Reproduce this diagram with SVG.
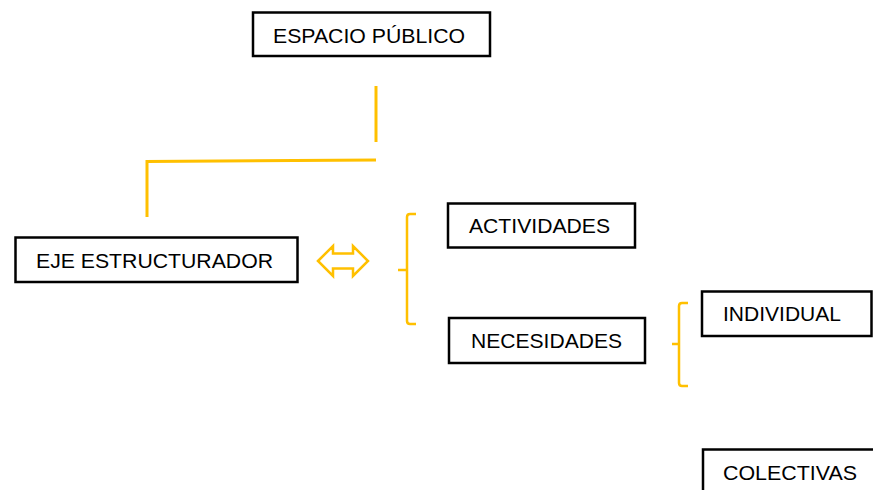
<svg xmlns="http://www.w3.org/2000/svg" width="873" height="490" viewBox="0 0 873 490">
<style>
.box{fill:#fff;stroke:#000;stroke-width:2.5}
.t{font-family:"Liberation Sans",Arial,sans-serif;font-size:21px;fill:#000}
.y{fill:none;stroke:#FFC000;stroke-width:3}
.br{fill:none;stroke:#FFC000;stroke-width:2.5;stroke-linejoin:round}
</style>
<rect width="873" height="490" fill="#fff"/>
<g id="connectors">
<line class="y" x1="376" y1="86" x2="376" y2="142"/>
<polyline class="y" points="376,160 147,161.5 147,217"/>
<path id="double-arrow" d="M318,261 L333,246 L333,253.5 L353,253.5 L353,246 L368,261 L353,276 L353,268.5 L333,268.5 L333,276 Z" fill="#fff" stroke="#FFC000" stroke-width="2.5" stroke-linejoin="miter"/>
<path class="br" d="M416,214 L410,214 Q407,214 407,217 L407,321 Q407,324 410,324 L416,324 M398,270 L407,270"/>
<path class="br" d="M688,303 L682,303 Q679,303 679,306 L679,383 Q679,386 682,386 L688,386 M672,344 L679,344"/>
</g>
<g id="espacio-publico">
<rect class="box" x="253" y="12.5" width="237" height="43.5"/>
<text class="t" x="273" y="43" textLength="192" lengthAdjust="spacingAndGlyphs">ESPACIO PÚBLICO</text>
</g>
<g id="eje-estructurador">
<rect class="box" x="15.5" y="237.5" width="282" height="44.5"/>
<text class="t" x="36" y="268" textLength="237" lengthAdjust="spacingAndGlyphs">EJE ESTRUCTURADOR</text>
</g>
<g id="actividades">
<rect class="box" x="448" y="203.5" width="187" height="44"/>
<text class="t" x="469" y="233" textLength="141" lengthAdjust="spacingAndGlyphs">ACTIVIDADES</text>
</g>
<g id="necesidades">
<rect class="box" x="449" y="318" width="196" height="45"/>
<text class="t" x="471" y="348" textLength="151" lengthAdjust="spacingAndGlyphs">NECESIDADES</text>
</g>
<g id="individual">
<rect class="box" x="702" y="291.5" width="169.5" height="44.5"/>
<text class="t" x="723" y="321" textLength="118" lengthAdjust="spacingAndGlyphs">INDIVIDUAL</text>
</g>
<g id="colectivas">
<rect class="box" x="703" y="449.5" width="200" height="60"/>
<text class="t" x="723" y="480" textLength="134" lengthAdjust="spacingAndGlyphs">COLECTIVAS</text>
</g>
</svg>
